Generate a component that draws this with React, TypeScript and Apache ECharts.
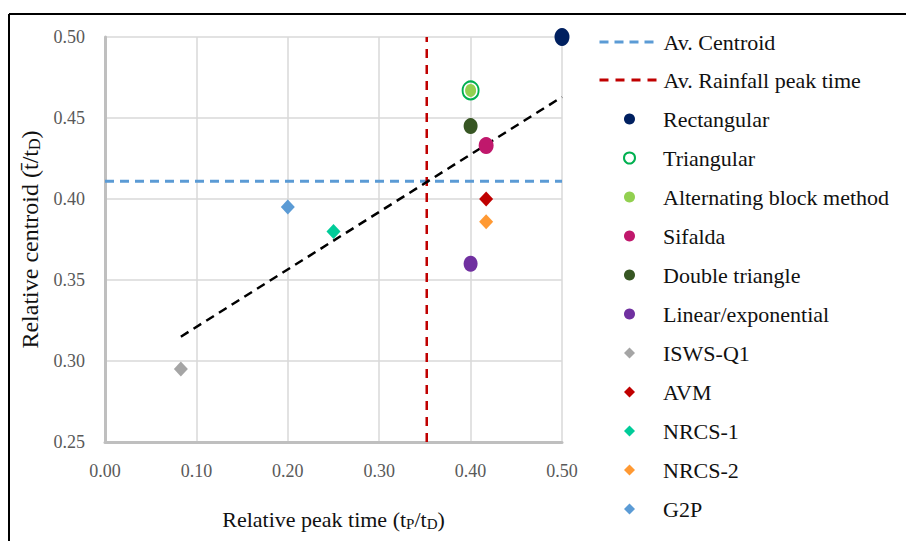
import React, { useEffect, useRef } from "react";
import * as echarts from "echarts";

// ---- data ----
const methodNames = [
  "Rectangular",
  "Triangular",
  "Alternating block method",
  "Sifalda",
  "Double triangle",
  "Linear/exponential",
  "ISWS-Q1",
  "AVM",
  "NRCS-1",
  "NRCS-2",
  "G2P",
];
const peakTimes = [0.5, 0.4, 0.4, 0.417, 0.4, 0.4, 0.083, 0.417, 0.25, 0.417, 0.2];
const centroids = [0.5, 0.467, 0.467, 0.433, 0.445, 0.36, 0.295, 0.4, 0.38, 0.386, 0.395];
const avCentroid = 0.411;
const avPeakTime = 0.352;
const trendX = [0.083, 0.5];
const trendY = [0.315, 0.463];
const lineNames = ["Av. Centroid", "Av. Rainfall peak time"];

// ---- styles ----
const markerColors = [
  "#002060",
  "transparent",
  "#92D050",
  "#C0186C",
  "#375623",
  "#7030A0",
  "#A5A5A5",
  "#C00000",
  "#00CC99",
  "#FF9933",
  "#5B9BD5",
];
const markerSymbols = [
  "circle",
  "circle",
  "circle",
  "circle",
  "circle",
  "circle",
  "diamond",
  "diamond",
  "diamond",
  "diamond",
  "diamond",
];
const markerSizes: any[] = [
  [15, 18],
  [16, 18],
  [11, 13],
  [15, 17],
  [14, 16],
  [14, 16],
  [14, 15],
  [14, 15],
  [14, 15],
  [14, 15],
  [14, 15],
];

const FONT = "Liberation Serif";

export default function App() {
  const ref = useRef<HTMLDivElement>(null);
  useEffect(() => {
    if (!ref.current) return;
    const chart = echarts.init(ref.current, null, { renderer: "svg" });

    const scatterSeries = methodNames.map((name, i) => ({
      name,
      type: "scatter",
      data: [[peakTimes[i], centroids[i]]],
      symbol: markerSymbols[i],
      symbolSize: markerSizes[i],
      z: 5 + i,
      itemStyle:
        name === "Triangular"
          ? { color: "transparent", borderColor: "#00B050", borderWidth: 2, opacity: 1 }
          : { color: markerColors[i], opacity: 1 },
    }));

    const option: any = {
      animation: false,
      backgroundColor: "#ffffff",
      grid: { left: 105, right: 344, top: 37, bottom: 99 },
      xAxis: {
        type: "value",
        min: 0,
        max: 0.5,
        interval: 0.1,
        name: "Relative peak time (t{sub|P}/t{sub|D})",
        nameLocation: "middle",
        nameGap: 65,
        nameTextStyle: {
          fontFamily: FONT,
          fontSize: 22,
          color: "#111",
          rich: {
            sub: { fontFamily: FONT, fontSize: 15, color: "#111", padding: [9, 0, 0, 0] },
          },
        },
        axisLine: { show: true, lineStyle: { color: "#BFBFBF", width: 3 } },
        axisTick: { show: false },
        splitLine: { show: true, lineStyle: { color: "#D9D9D9", width: 1.5 } },
        axisLabel: {
          fontFamily: FONT,
          fontSize: 18,
          color: "#595959",
          margin: 20,
          formatter: (v: number) => v.toFixed(2),
        },
      },
      yAxis: {
        type: "value",
        min: 0.25,
        max: 0.5,
        interval: 0.05,
        name: "Relative centroid (t\u0304/t{sub|D})",
        nameLocation: "middle",
        nameGap: 58,
        nameTextStyle: {
          fontFamily: FONT,
          fontSize: 24,
          color: "#111",
          rich: {
            sub: { fontFamily: FONT, fontSize: 16, color: "#111", padding: [10, 0, 0, 0] },
          },
        },
        axisLine: { show: true, lineStyle: { color: "#BFBFBF", width: 3 } },
        axisTick: { show: false },
        splitLine: { show: true, lineStyle: { color: "#D9D9D9", width: 1.5 } },
        axisLabel: {
          fontFamily: FONT,
          fontSize: 18,
          color: "#595959",
          margin: 20,
          formatter: (v: number) => v.toFixed(2),
        },
      },
      legend: [
        {
          data: lineNames,
          orient: "vertical",
          left: 598,
          top: 31,
          padding: 0,
          itemWidth: 57,
          itemHeight: 14,
          itemGap: 16,
          selectedMode: false,
          itemStyle: { opacity: 0 },
          lineStyle: { width: 3 },
          textStyle: {
            fontFamily: FONT,
            fontSize: 22,
            lineHeight: 22,
            color: "#111",
            padding: [0, 0, 0, 2],
          },
        },
        {
          data: methodNames,
          orient: "vertical",
          left: 623,
          top: 108,
          padding: 0,
          itemWidth: 11,
          itemHeight: 11,
          itemGap: 17,
          selectedMode: false,
          textStyle: {
            fontFamily: FONT,
            fontSize: 22,
            lineHeight: 22,
            color: "#111",
            padding: [0, 0, 0, 23],
          },
        },
      ],
      graphic: [
        {
          type: "line",
          shape: { x1: 9, y1: 14, x2: 906, y2: 14 },
          style: { stroke: "#000", lineWidth: 2 },
        },
        {
          type: "line",
          shape: { x1: 9, y1: 14, x2: 9, y2: 541 },
          style: { stroke: "#000", lineWidth: 2 },
        },
      ],
      series: [
        {
          name: "trend",
          type: "line",
          data: trendX.map((x, i) => [x, trendY[i]]),
          symbol: "none",
          z: 3,
          lineStyle: { color: "#000", width: 2.5, type: [9, 6] },
        },
        {
          name: lineNames[0],
          type: "line",
          data: [
            [0, avCentroid],
            [0.5, avCentroid],
          ],
          symbol: "none",
          z: 2,
          lineStyle: { color: "#5B9BD5", width: 3, type: [9, 6] },
          itemStyle: { color: "#5B9BD5" },
        },
        {
          name: lineNames[1],
          type: "line",
          data: [
            [avPeakTime, 0.25],
            [avPeakTime, 0.5],
          ],
          symbol: "none",
          z: 2,
          lineStyle: { color: "#C00000", width: 2.5, type: [9, 7] },
          itemStyle: { color: "#C00000" },
        },
        ...scatterSeries,
      ],
    };
    chart.setOption(option);
    return () => chart.dispose();
  }, []);
  return (
    <div
      ref={ref}
      style={{ position: "absolute", left: 0, top: 0, width: 906, height: 541 }}
    />
  );
}
